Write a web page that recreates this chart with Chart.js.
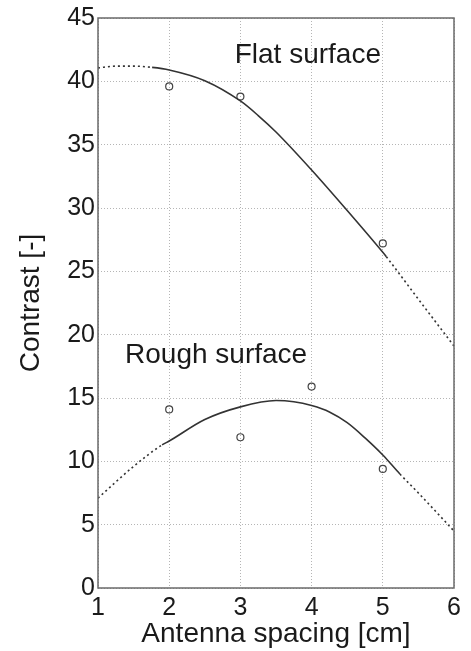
<!DOCTYPE html>
<html><head><meta charset="utf-8">
<script src="https://cdn.jsdelivr.net/npm/chart.js@4.4.1/dist/chart.umd.min.js"></script>
<style>html,body{margin:0;padding:0;background:#fff;}#wrap{width:471px;height:651px;}</style>
</head><body><div id="wrap"><canvas id="c" width="471" height="651"></canvas></div>
<script>
// ---- data ----
const xTickValues = [1, 2, 3, 4, 5, 6];
const yTickValues = [0, 5, 10, 15, 20, 25, 30, 35, 40, 45];

const flatMeasuredX = [2, 3, 5];
const flatMeasuredY = [39.6, 38.8, 27.2];
const roughMeasuredX = [2, 3, 4, 5];
const roughMeasuredY = [14.1, 11.9, 15.9, 9.4];

const flatFitX = [1, 1.25, 1.5, 1.76, 2, 2.5, 3, 3.25, 3.5, 4, 4.5, 5, 5.05, 5.5, 6];
const flatFitY = [41.06, 41.2, 41.2, 41.1, 40.9, 40.05, 38.45, 37.3, 36.0, 33.0, 29.8, 26.5, 26.15, 22.8, 19.1];
const flatSolidFrom = 1.76, flatSolidTo = 5.05;

const roughFitX = [1, 1.5, 1.9, 2, 2.5, 3, 3.5, 3.75, 4, 4.25, 4.5, 4.75, 5, 5.24, 5.5, 6];
const roughFitY = [7.1, 9.6, 11.3, 11.6, 13.3, 14.3, 14.8, 14.7, 14.4, 13.9, 13.05, 11.85, 10.5, 9.0, 7.5, 4.5];
const roughSolidFrom = 1.9, roughSolidTo = 5.24;

const annotations = [
  { text: 'Flat surface', x: 2.92, y: 41.45 },
  { text: 'Rough surface', x: 1.38, y: 17.77 }
];
const xTitle = 'Antenna spacing [cm]';
const yTitle = 'Contrast [-]';

// ---- helpers ----
const toPts = (xs, ys) => xs.map((x, i) => ({ x: x, y: ys[i] }));
const dotted = [2, 3];
const segStyle = (lo, hi) => ({
  borderDash: ctx => (ctx.p0.parsed.x >= lo - 1e-9 && ctx.p1.parsed.x <= hi + 1e-9) ? [] : dotted
});

const FONT = 'Liberation Sans, Arial, Helvetica, sans-serif';
const TXT = '#1a1a1a';
const LINE = '#333';

const boxPlugin = {
  id: 'box',
  afterDraw(chart) {
    const { ctx, chartArea: a } = chart;
    ctx.save();
    ctx.strokeStyle = '#6a6a6a';
    ctx.lineWidth = 1.5;
    ctx.strokeRect(a.left, a.top, a.right - a.left, a.bottom - a.top);
    ctx.restore();
  }
};
const annoPlugin = {
  id: 'anno',
  afterDatasetsDraw(chart) {
    const { ctx, scales: { x, y } } = chart;
    ctx.save();
    ctx.font = '28px ' + FONT;
    ctx.fillStyle = TXT;
    ctx.textAlign = 'left';
    ctx.textBaseline = 'alphabetic';
    annotations.forEach(a => ctx.fillText(a.text, x.getPixelForValue(a.x), y.getPixelForValue(a.y)));
    ctx.restore();
  }
};

new Chart(document.getElementById('c'), {
  type: 'scatter',
  data: {
    datasets: [
      {
        label: 'Flat fit', data: toPts(flatFitX, flatFitY), showLine: true,
        borderColor: LINE, borderWidth: 1.6, pointRadius: 0, fill: false,
        cubicInterpolationMode: 'monotone', segment: segStyle(flatSolidFrom, flatSolidTo)
      },
      {
        label: 'Rough fit', data: toPts(roughFitX, roughFitY), showLine: true,
        borderColor: LINE, borderWidth: 1.6, pointRadius: 0, fill: false,
        cubicInterpolationMode: 'monotone', segment: segStyle(roughSolidFrom, roughSolidTo)
      },
      {
        label: 'Flat measured', data: toPts(flatMeasuredX, flatMeasuredY), showLine: false,
        pointStyle: 'circle', pointRadius: 3.5, pointBorderWidth: 1.2,
        pointBorderColor: '#444', pointBackgroundColor: 'rgba(255,255,255,0)'
      },
      {
        label: 'Rough measured', data: toPts(roughMeasuredX, roughMeasuredY), showLine: false,
        pointStyle: 'circle', pointRadius: 3.5, pointBorderWidth: 1.2,
        pointBorderColor: '#444', pointBackgroundColor: 'rgba(255,255,255,0)'
      }
    ]
  },
  options: {
    responsive: false,
    animation: false,
    devicePixelRatio: 1,
    layout: { padding: { top: 18, right: 17, left: 0, bottom: 0 } },
    plugins: { legend: { display: false }, tooltip: { enabled: false } },
    scales: {
      x: {
        type: 'linear', min: 1, max: 6,
        afterBuildTicks: s => { s.ticks = xTickValues.map(v => ({ value: v })); },
        afterFit: s => { s.height = 63; },
        grid: { color: '#b5b5b5', drawTicks: false, lineWidth: 1 },
        border: { display: false, dash: [1, 2] },
        ticks: { color: TXT, font: { family: FONT, size: 25 }, padding: 5, maxRotation: 0 },
        title: { display: true, text: xTitle, color: TXT, font: { family: FONT, size: 28 }, padding: { top: 0, bottom: 0 } }
      },
      y: {
        type: 'linear', min: 0, max: 45,
        afterBuildTicks: s => { s.ticks = yTickValues.map(v => ({ value: v })); },
        afterFit: s => { s.width = 98; },
        grid: { color: '#b5b5b5', drawTicks: false, lineWidth: 1 },
        border: { display: false, dash: [1, 2] },
        ticks: { color: TXT, font: { family: FONT, size: 25 }, padding: 3 },
        title: { display: true, text: yTitle, color: TXT, font: { family: FONT, size: 28 }, padding: { top: 14, bottom: 0 } }
      }
    }
  },
  plugins: [boxPlugin, annoPlugin]
});
</script>
</body></html>
